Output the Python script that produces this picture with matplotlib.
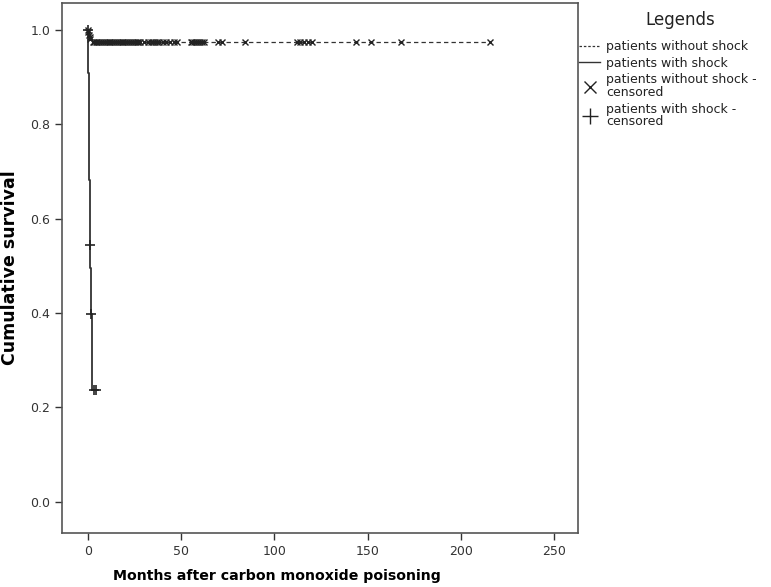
import matplotlib
matplotlib.use("Agg")
import matplotlib.pyplot as plt
from matplotlib.lines import Line2D

# patients without shock: event times (months) and survival after each event
noshock_time = [0.0, 0.3, 0.6, 1.0, 1.5, 2.2]
noshock_surv = [1.0, 0.995, 0.99, 0.985, 0.98, 0.975]
noshock_end = 216
# censored (x marks)
noshock_cens_t = [0.0, 0.2, 0.5, 0.8, 1.2, 2.5, 3, 4, 5, 6, 7, 8, 9, 10, 11, 12, 13, 14, 15,
                  16, 17, 18, 19, 20, 21, 22, 23, 24, 25, 26, 27, 28, 30, 32, 34, 35, 36,
                  37, 38, 40, 42, 44, 46, 48, 55, 56, 57, 58, 59, 60, 61, 62, 70, 72, 84,
                  112, 114, 116, 118, 120, 144, 152, 168, 216]
noshock_cens_s = [1.0, 0.995, 0.99, 0.985, 0.98] + [0.975] * 59

# patients with shock
shock_time = [0.0, 0.1, 0.2, 0.3, 0.4, 0.5, 0.6, 0.7, 0.8, 0.9, 1.0, 1.2, 1.4, 1.6, 1.9, 2.2]
shock_surv = [1.0, 0.955, 0.909, 0.864, 0.818, 0.773, 0.727, 0.682, 0.636, 0.591, 0.545,
              0.496, 0.446, 0.397, 0.318, 0.238]
shock_end = 5.0
shock_cens_t = [0.0, 1.1, 1.7, 3.0, 4.5]
shock_cens_s = [1.0, 0.545, 0.397, 0.238, 0.238]

xticks = [0, 50, 100, 150, 200, 250]
yticks = [0.0, 0.2, 0.4, 0.6, 0.8, 1.0]

fig = plt.figure(figsize=(7.71, 5.87), dpi=100)
ax = fig.add_axes([62 / 771, 1 - 533 / 587, (578 - 62) / 771, (533 - 3) / 587])

col = "#333333"
ax.step(noshock_time + [noshock_end], noshock_surv + [noshock_surv[-1]], where="post",
        color=col, lw=0.9, ls=(0, (3.5, 2.5)))
ax.step(shock_time + [shock_end], shock_surv + [shock_surv[-1]], where="post",
        color=col, lw=1.3)
ax.plot(noshock_cens_t, noshock_cens_s, ls="none", marker="x", ms=4, mew=1.0, color="#222222")
ax.plot(shock_cens_t, shock_cens_s, ls="none", marker="+", ms=7, mew=1.2, color="#222222")

ax.set_xlim(-14, 263)
ax.set_ylim(-0.066, 1.057)
ax.set_xticks(xticks)
ax.set_xticklabels([str(t) for t in xticks])
ax.set_yticks(yticks)
ax.set_yticklabels(["%.1f" % t for t in yticks])
ax.tick_params(direction="out", length=5, width=1, labelsize=9, colors="#333333")
for s in ax.spines.values():
    s.set_color("#555555")
    s.set_linewidth(1.2)

ax.set_xlabel("Months after carbon monoxide poisoning", fontsize=10.2, fontweight="bold")
ax.xaxis.set_label_coords(0.417, -0.068)
ax.set_ylabel("Cumulative survival", fontsize=12.5, fontweight="bold", labelpad=8)

fig.text(680 / 771, 1 - 20 / 587, "Legends", ha="center", va="center", fontsize=12, color="#222222")
handles = [
    Line2D([], [], color=col, lw=0.9, ls=(0, (2, 1.5))),
    Line2D([], [], color=col, lw=1.0),
    Line2D([], [], ls="none", marker="x", ms=9, mew=1.0, color="#222222"),
    Line2D([], [], ls="none", marker="+", ms=11, mew=1.0, color="#222222"),
]
labels = ["patients without shock", "patients with shock",
          "patients without shock -\ncensored", "patients with shock -\ncensored"]
leg = fig.legend(handles, labels, loc="upper left", bbox_to_anchor=(574 / 771, 1 - 35 / 587),
                 frameon=False, fontsize=9, handlelength=1.7, handletextpad=0.5,
                 labelspacing=0.3, borderaxespad=0)
for t in leg.get_texts():
    t.set_color("#222222")
    t.set_linespacing(0.95)

fig.savefig("out.png", dpi=100)
